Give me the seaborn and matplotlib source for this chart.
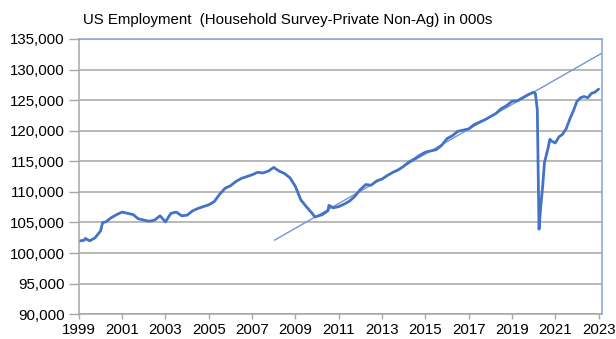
import numpy as np
import pandas as pd
import matplotlib.pyplot as plt
import seaborn as sns
from matplotlib.ticker import FuncFormatter

# values (decimal year, thousands of employees)
years = [
    1999.0, 1999.25, 1999.3, 1999.5, 1999.75, 2000.0, 2000.1, 2000.25, 2000.5, 2000.75,
    2001.0, 2001.25, 2001.5, 2001.75, 2002.0, 2002.25, 2002.5, 2002.75, 2003.0, 2003.25,
    2003.5, 2003.75, 2004.0, 2004.25, 2004.5, 2004.75, 2005.0, 2005.25, 2005.5, 2005.75,
    2006.0, 2006.25, 2006.5, 2006.75, 2007.0, 2007.25, 2007.5, 2007.75, 2008.0, 2008.25,
    2008.5, 2008.75, 2009.0, 2009.25, 2009.5, 2009.75, 2009.9, 2010.0, 2010.25, 2010.5,
    2010.55, 2010.75, 2011.0, 2011.25, 2011.5, 2011.75, 2012.0, 2012.25, 2012.5, 2012.75,
    2013.0, 2013.25, 2013.5, 2013.75, 2014.0, 2014.25, 2014.5, 2014.75, 2015.0, 2015.25,
    2015.5, 2015.75, 2016.0, 2016.25, 2016.5, 2016.75, 2017.0, 2017.25, 2017.5, 2017.75,
    2018.0, 2018.25, 2018.5, 2018.75, 2019.0, 2019.25, 2019.5, 2019.75, 2020.0, 2020.08,
    2020.17, 2020.25, 2020.33, 2020.42, 2020.5, 2020.58, 2020.67, 2020.75, 2020.83, 2021.0,
    2021.17, 2021.33, 2021.5, 2021.67, 2021.83, 2022.0, 2022.17, 2022.33, 2022.5, 2022.67,
    2022.83, 2023.0,
]
employment = [
    101975, 102100, 102400, 102000, 102500, 103600, 105000, 105100, 105800, 106300,
    106700, 106500, 106300, 105600, 105400, 105200, 105400, 106100, 105100, 106500,
    106700, 106100, 106200, 106900, 107300, 107600, 107900, 108400, 109600, 110600,
    111000, 111700, 112200, 112500, 112800, 113200, 113100, 113400, 114000, 113400,
    113000, 112300, 110900, 108700, 107600, 106600, 105900, 106000, 106300, 106900,
    107800, 107400, 107600, 108000, 108500, 109300, 110400, 111200, 111100, 111800,
    112100, 112700, 113200, 113600, 114200, 114900, 115400, 116000, 116500, 116700,
    116900, 117600, 118700, 119200, 119900, 120100, 120300, 121000, 121400, 121800,
    122300, 122800, 123600, 124100, 124800, 124900, 125400, 125900, 126300, 126100,
    123500, 103900, 107700, 111000, 114800, 115900, 117200, 118600, 118300, 118000,
    119000, 119400, 120300, 121900, 123200, 124800, 125400, 125600, 125400, 126100,
    126300, 126800,
]

# pre-recession trend line
trend_years = [2008.03, 2023.16]
trend_values = [102100, 132700]

y_ticks = list(range(90000, 135001, 5000))
x_ticks = list(range(1999, 2024, 2))

df = pd.DataFrame({"year": years, "employment": employment})
trend = pd.DataFrame({"year": trend_years, "employment": trend_values})

sns.set_theme(style="white")
plt.rcParams["font.family"] = ["Liberation Sans", "DejaVu Sans"]

fig = plt.figure(figsize=(6.16, 3.39), dpi=100)
ax = fig.add_axes([0.128, 0.073, 0.849, 0.812])

sns.lineplot(data=trend, x="year", y="employment", ax=ax, color="#7396D4", linewidth=1.0)
sns.lineplot(data=df, x="year", y="employment", ax=ax, color="#4472C4", linewidth=2.0)

ax.set_xlim(1999, 2023.15)
ax.set_ylim(90000, 135000)
ax.set_xticks(x_ticks)
ax.set_yticks(y_ticks)
ax.yaxis.set_major_formatter(FuncFormatter(lambda v, p: f"{int(v):,}"))
ax.set_xlabel("")
ax.set_ylabel("")
ax.grid(axis="y", color="#A6A6A6", linewidth=1.1)
ax.set_axisbelow(True)

for side in ["left", "bottom"]:
    ax.spines[side].set_color("#A6A6A6")
    ax.spines[side].set_linewidth(1.1)
for side in ["top", "right"]:
    ax.spines[side].set_color("#8EA9DB")
    ax.spines[side].set_linewidth(1.2)

ax.tick_params(axis="both", labelsize=10.8, colors="#A6A6A6", labelcolor="#000000",
               width=1.0, direction="out", bottom=True, left=True)
ax.tick_params(axis="y", length=7, pad=3)
ax.tick_params(axis="x", length=3.5, pad=2.5)

fig.text(83 / 616, 1 - 20 / 339, "US Employment  (Household Survey-Private Non-Ag) in 000s",
         fontsize=10.8, va="center", ha="left", color="#000000")

fig.savefig("out.png", dpi=100)
